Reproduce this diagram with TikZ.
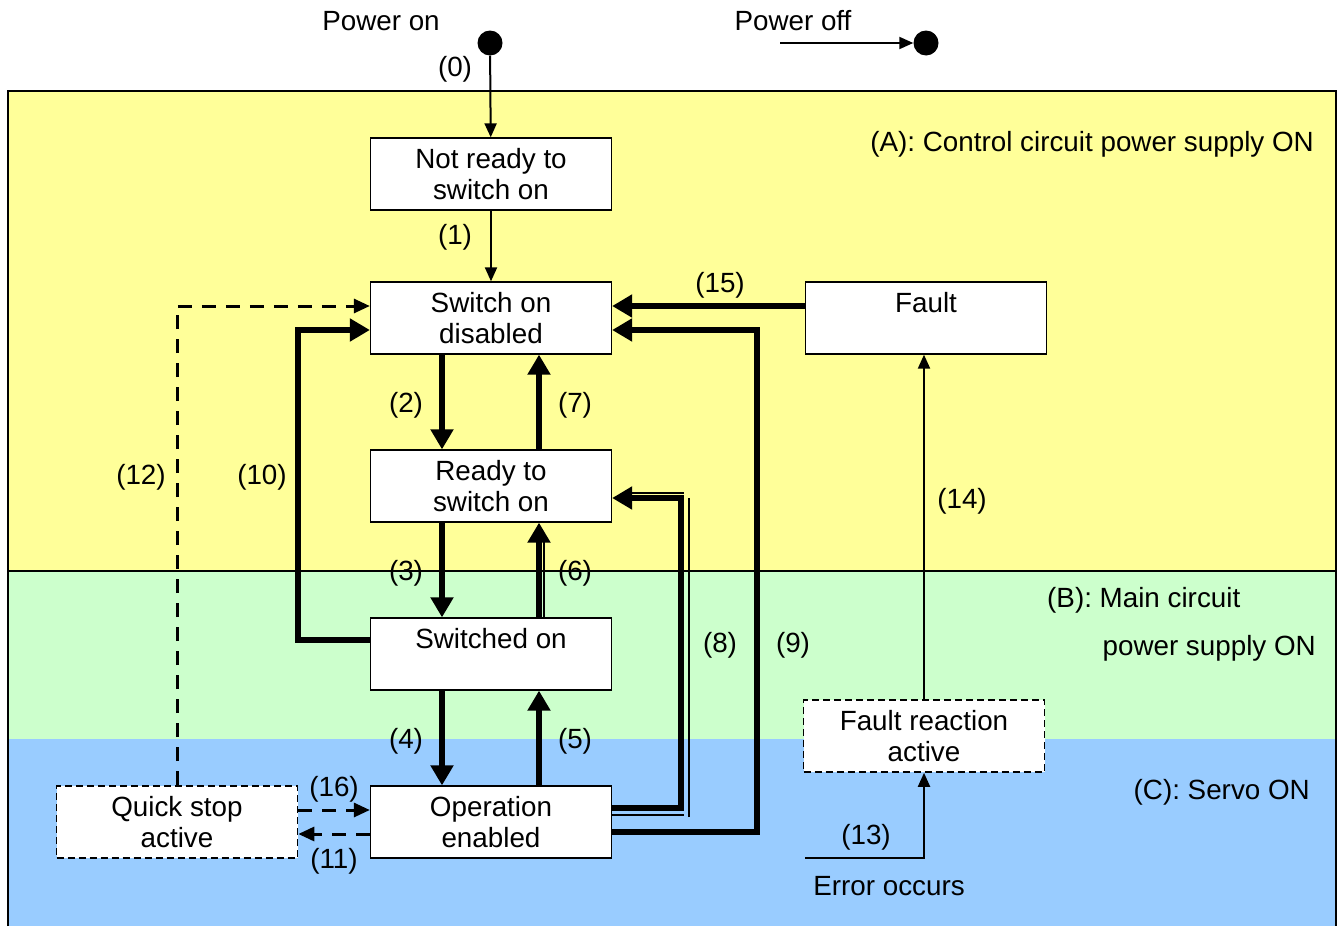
\documentclass[tikz,border=0pt]{standalone}
\usepackage{fontspec}
\setmainfont{Liberation Sans}
\usetikzlibrary{arrows.meta}
\definecolor{zoneA}{HTML}{FFFF99}
\definecolor{zoneB}{HTML}{CCFFCC}
\definecolor{zoneC}{HTML}{99CCFF}
\begin{document}
\begin{tikzpicture}[x=1pt,y=-1pt,
 every node/.style={font=\fontsize{27.8}{31}\selectfont},
 state/.style={draw,line width=1.3pt,fill=white,minimum width=241pt,minimum height=72pt,align=center,inner sep=0pt},
 dstate/.style={state,line width=1.6pt,dash pattern=on 7pt off 4pt},
 thinarrow/.style={line width=2pt,-{Triangle[length=14pt,width=12pt]}},
 thickarrow/.style={line width=5.5pt,-{Triangle[length=20pt,width=22pt]}},
 dasharrow/.style={line width=3pt,dash pattern=on 14pt off 10pt,-{Triangle[length=16pt,width=14pt]}},
 shadowline/.style={line width=1.5pt},
 dot/.style={circle,fill,inner sep=0pt,minimum size=25pt},
 zonetext/.style={inner sep=0pt}]
\useasboundingbox (0,0) rectangle (1343,926);
% zones
\fill[zoneA] (8,91) rectangle (1336,571);
\fill[zoneB] (8,571) rectangle (1336,739);
\fill[zoneC] (8,739) rectangle (1336,926);
\draw[line width=1.3pt] (8,926) -- (8,91) -- (1336,91) -- (1336,926);
\draw[line width=1.3pt] (8,571) -- (1336,571);
% states
\node[state] (nr) at (491,174) {Not ready to\\switch on};
\node[state] (sod) at (491,318) {Switch on\\disabled};
\node[state] (rts) at (491,486) {Ready to\\switch on};
\node[state] (so) at (491,654) {Switched on\\\mbox{}};
\node[state] (oe) at (491,822) {Operation\\enabled};
\node[state] (f) at (926,318) {Fault\\\mbox{}};
\node[dstate] (fra) at (924,736) {Fault reaction\\active};
\node[dstate] (qs) at (177,822) {Quick stop\\active};
% dots
\node[dot] (pon) at (490,43) {};
\node[dot] (poff) at (926,43) {};
\coordinate (poffs) at (780,43);
\coordinate (err) at (805,858);
% texts
\node[anchor=base] (tpon) at (381,30) {Power on};
\node[anchor=base] (tpoff) at (793,30) {Power off};
\node[anchor=base] (terr) at (889,895) {Error occurs};
\node[zonetext,anchor=base east] (tA) at (1314,151) {(A): Control circuit power supply ON};
\node[zonetext,anchor=base west] (tB1) at (1047,607) {(B): Main circuit};
\node[zonetext,anchor=base east] (tB2) at (1316,655) {power supply ON};
\node[zonetext,anchor=base east] (tC) at (1310,799) {(C): Servo ON};
% connectors
\draw[thinarrow] (poffs) -- (poff);
\draw[thinarrow] (pon) -- (nr);
\draw[thinarrow] (nr) -- (sod);
\draw[thickarrow] ([xshift=-49pt]sod.south) -- ([xshift=-49pt]rts.north);
\draw[thickarrow] ([xshift=48pt]rts.north) -- ([xshift=48pt]sod.south);
\draw[thickarrow] ([xshift=-49pt]rts.south) -- ([xshift=-49pt]so.north);
\draw[thickarrow] ([xshift=48pt]so.north) -- ([xshift=48pt]rts.south);
\draw[shadowline] (544,540) -- (544,618);
\draw[thickarrow] ([xshift=-49pt]so.south) -- ([xshift=-49pt]oe.north);
\draw[thickarrow] ([xshift=48pt]oe.north) -- ([xshift=48pt]so.south);
\draw[thickarrow] ([yshift=14pt]so.west) -- ++(-72,0) |- ([yshift=-12pt]sod.west);
\draw[dasharrow] (qs.north) |- ([yshift=12pt]sod.west);
\draw[dasharrow] ([yshift=12pt]qs.east) -- ([yshift=12pt]oe.west);
\draw[dasharrow] ([yshift=-12pt]oe.west) -- ([yshift=-12pt]qs.east);
\draw[thickarrow] ([yshift=14pt]oe.east) -- ++(69,0) |- ([yshift=-12pt]rts.east);
\draw[shadowline] ([yshift=7pt]oe.east) -- ++(72,0);
\draw[shadowline] (689,817) -- (689,498);
\draw[shadowline] (622,493) -- (684,493);
\draw[thickarrow] ([yshift=-10pt]oe.east) -- ++(145,0) |- ([yshift=-12pt]sod.east);
\draw[thickarrow] ([yshift=12pt]f.west) -- ([yshift=12pt]sod.east);
\draw[thinarrow] (fra.north) -- (fra.north |- f.south);
\draw[thinarrow] (err) -| (fra.south);
% labels
\node (l0) at (455,69) {(0)};
\node (l1) at (455,237) {(1)};
\node (l2) at (406,405) {(2)};
\node (l7) at (575,405) {(7)};
\node (l3) at (406,573) {(3)};
\node (l6) at (575,573) {(6)};
\node (l4) at (406,741) {(4)};
\node (l5) at (575,741) {(5)};
\node (l10) at (262,477) {(10)};
\node (l12) at (141,477) {(12)};
\node (l8) at (720,645) {(8)};
\node (l9) at (793,645) {(9)};
\node (l15) at (720,285) {(15)};
\node (l14) at (962,501) {(14)};
\node (l13) at (866,837) {(13)};
\node (l16) at (334,789) {(16)};
\node (l11) at (334,861) {(11)};
\end{tikzpicture}
\end{document}
